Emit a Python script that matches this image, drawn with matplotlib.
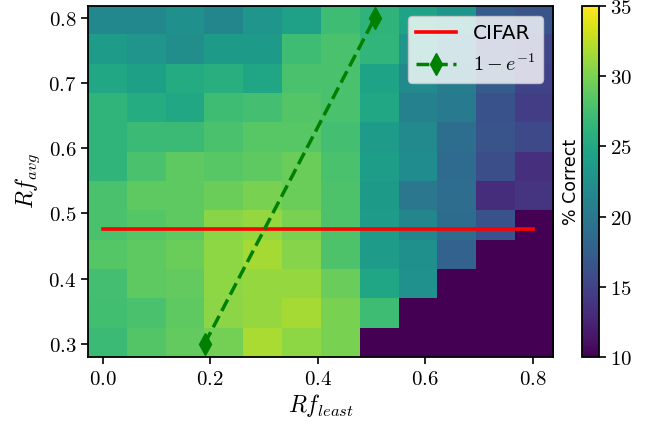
import matplotlib
matplotlib.use("Agg")
import matplotlib.pyplot as plt
import numpy as np
from matplotlib.ticker import FuncFormatter

plt.rcParams["mathtext.fontset"] = "cm"

# % correct grid, top row (Rf_avg ~ 0.8) first, columns Rf_least 0 -> 0.8
acc_rows = [
    [21.7, 21.7, 22.5, 21.5, 23.0, 24.3, 27.2, 26.3, 24.5, 23.0, 17.3, 16.5],
    [23.8, 23.0, 22.4, 23.6, 23.6, 27.2, 27.8, 26.5, 23.0, 21.0, 16.3, 15.3],
    [25.0, 24.2, 25.4, 25.7, 24.8, 27.8, 27.8, 24.5, 22.0, 20.5, 17.3, 15.0],
    [26.4, 25.5, 25.0, 27.2, 27.5, 28.3, 27.8, 25.0, 21.0, 20.2, 16.3, 14.5],
    [26.4, 27.0, 27.0, 27.8, 28.5, 28.5, 27.5, 23.8, 21.9, 19.0, 16.5, 15.5],
    [26.4, 27.8, 28.8, 28.5, 28.8, 29.4, 27.8, 24.0, 22.2, 18.7, 16.0, 13.5],
    [27.8, 28.8, 28.8, 29.4, 30.0, 29.4, 28.0, 23.6, 19.9, 18.9, 13.3, 13.8],
    [27.8, 28.4, 28.8, 30.6, 31.0, 30.0, 28.0, 23.8, 21.5, 18.8, 16.3, 10.0],
    [28.4, 28.8, 29.4, 30.8, 31.6, 30.5, 28.0, 23.8, 22.5, 17.9, 10.0, 10.0],
    [27.5, 28.8, 29.0, 30.8, 31.0, 31.0, 29.3, 24.8, 22.6, 10.0, 10.0, 10.0],
    [27.4, 27.8, 28.8, 30.7, 31.0, 31.6, 30.0, 27.2, 10.0, 10.0, 10.0, 10.0],
    [27.0, 28.3, 29.0, 29.8, 31.8, 30.8, 30.0, 10.0, 10.0, 10.0, 10.0, 10.0],
]
grid_extent = (-0.027, 0.838, 0.2794, 0.819)  # Rf_least min/max, Rf_avg min/max

cifar_x = [0.0, 0.8]
cifar_y = [0.476, 0.476]
decay_x = [0.19, 0.506]
decay_y = [0.30, 0.80]

fig = plt.figure(figsize=(6.55, 4.26), dpi=100)
ax = fig.add_axes([0.1344, 0.162, 0.710, 0.824])
cax = fig.add_axes([0.888, 0.162, 0.026, 0.824])

im = ax.imshow(np.array(acc_rows), cmap="viridis", vmin=10, vmax=35,
               extent=grid_extent, origin="upper", aspect="auto",
               interpolation="nearest")
ax.plot(cifar_x, cifar_y, color="red", lw=2.6, label="CIFAR")
ax.plot(decay_x, decay_y, color="green", lw=2.5, ls="--", marker="d",
        markersize=11, label=r"$1-e^{-1}$")

ax.set_xlim(grid_extent[0], grid_extent[1])
ax.set_ylim(grid_extent[2], grid_extent[3])
ax.set_xticks([0.0, 0.2, 0.4, 0.6, 0.8])
ax.set_yticks([0.3, 0.4, 0.5, 0.6, 0.7, 0.8])
fmt = FuncFormatter(lambda v, p: f"${v:.1f}$")
ax.xaxis.set_major_formatter(fmt)
ax.yaxis.set_major_formatter(fmt)
ax.tick_params(labelsize=15, length=5, width=1.2)
ax.set_xlabel(r"$Rf_{least}$", fontsize=17, labelpad=2)
ax.set_ylabel(r"$Rf_{avg}$", fontsize=17, labelpad=4)
for s in ax.spines.values():
    s.set_linewidth(1.3)

ax.legend(loc="upper right", fontsize=14.5, handlelength=2.0)

cb = fig.colorbar(im, cax=cax)
cb.set_ticks([10, 15, 20, 25, 30, 35])
cb.ax.yaxis.set_major_formatter(FuncFormatter(lambda v, p: f"${v:.0f}$"))
cb.ax.tick_params(labelsize=15, length=5, width=1.2)
cb.outline.set_linewidth(1.3)
cb.set_label("% Correct", fontsize=12.5, labelpad=1)
cb.ax.yaxis.set_label_position("left")

fig.savefig("out.png", dpi=100)
